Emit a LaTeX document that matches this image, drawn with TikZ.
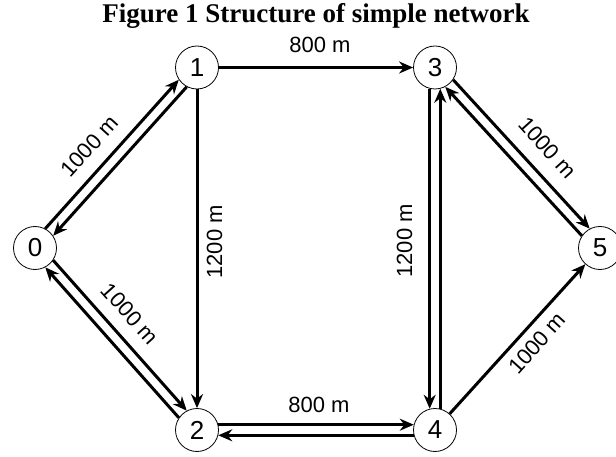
\documentclass[tikz,border=0pt]{standalone}
\usepackage{fontspec}
\setmainfont{Liberation Serif}
\setsansfont{Liberation Sans}
\usetikzlibrary{arrows.meta, positioning, calc}

\begin{document}
\begin{tikzpicture}[x=1pt, y=1pt, >={Stealth[length=14pt, width=12pt]},
  station/.style={circle, draw, line width=0.8pt, minimum size=43pt, inner sep=0pt,
    font=\sffamily\fontsize{26}{26}\selectfont},
  link/.style={->, line width=3pt},
  dist/.style={font=\sffamily\fontsize{22}{22}\selectfont, inner sep=0pt}]
  \useasboundingbox (0,0) rectangle (616,-457);

  \node[font=\bfseries\fontsize{27}{27}\selectfont] (title) at (316,-16) {Figure 1 Structure of simple network};

  % stations
  \node[station] (n0) at (35,-248) {0};
  \node[station] (n1) at (197,-67.5) {1};
  \node[station] (n2) at (197,-430) {2};
  \node[station] (n3) at (435,-67.5) {3};
  \node[station] (n4) at (435,-430) {4};
  \node[station] (n5) at (600,-248) {5};

  % one-way links
  \draw[link] (n1) -- (n3);
  \draw[link] (n1) -- (n2);
  \draw[link] (n4) -- (n5);

  % two-way links
  \draw[link] (n0.62) -- (n1.214);
  \draw[link] (n1.242) -- (n0.34);
  \draw[link] (n0.-34) -- (n2.118);
  \draw[link] (n2.146) -- (n0.-62);
  \draw[link] (n2.14) -- (n4.166);
  \draw[link] (n4.194) -- (n2.-14);
  \draw[link] (n3.256) -- (n4.104);
  \draw[link] (n4.76) -- (n3.284);
  \draw[link] (n3.-34) -- (n5.118);
  \draw[link] (n5.146) -- (n3.-62);

  % distances
  \node[dist] (d13) at (320,-45) {800 m};
  \node[dist] (d24) at (319,-405) {800 m};
  \node[dist, rotate=90] (d12) at (214.5,-242) {1200 m};
  \node[dist, rotate=90] (d34) at (404.5,-241) {1200 m};
  \node[dist, rotate=48] (d01) at (89.5,-146.5) {1000 m};
  \node[dist, rotate=-48] (d02) at (130,-314) {1000 m};
  \node[dist, rotate=-48] (d35) at (547.5,-147.5) {1000 m};
  \node[dist, rotate=48] (d45) at (537,-343) {1000 m};
\end{tikzpicture}
\end{document}
